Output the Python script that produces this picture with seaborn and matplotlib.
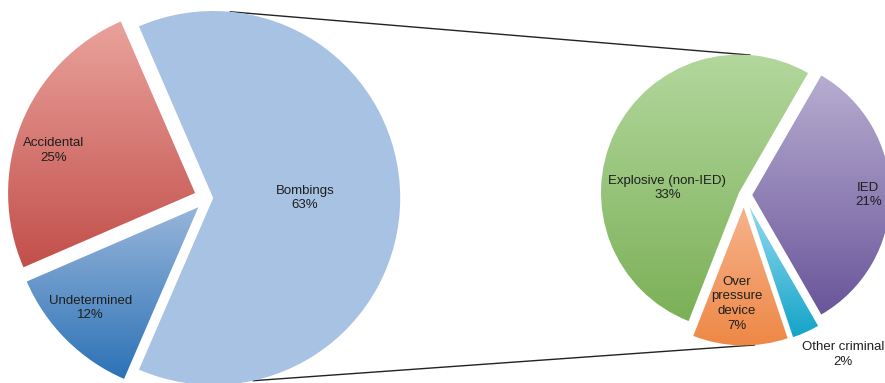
import numpy as np
import matplotlib
matplotlib.use("Agg")
import matplotlib.pyplot as plt
import seaborn as sns

# ---- data ----
left_labels = ["Bombings", "Accidental", "Undetermined"]
left_values = [63, 25, 12]
right_labels = ["IED", "Explosive (non-IED)", "Over\npressure\ndevice", "Other criminal"]
right_values = [21, 33, 7, 2]

# ---- style ----
left_colors = ["#A8C2E3", ("#EAA29C", "#C24F4A"), ("#97B5DA", "#2C72B6")]
right_colors = [("#B7ADD0", "#69559A"), ("#B3D79D", "#7BB057"),
                ("#F6B28C", "#EE8845"), ("#95D9F1", "#12A4C7")]
left_explode = [0.03, 0.072, 0.07]
right_explode = [0.06, 0.04, 0.09, 0.09]
left_lab_pos = [(0.49, 0), (0.79, 5), (0.79, -2)]
right_lab_pos = [(0.84, 0), (0.52, 22), (0.70, -2.6), (1.27, 8)]

sns.set_theme(style="white")
plt.rcParams['font.family'] = ['Liberation Sans', 'DejaVu Sans']

fig = plt.figure(figsize=(8.85, 3.83), dpi=100)
ax = fig.add_axes([0, 0, 1, 1])


def grad_pie(values, colors, center, radius, explode, labels, labpos):
    total = sum(values)
    start = -values[0] / total * 360 / 2
    wedges, _ = ax.pie(values, center=center, radius=radius,
                       explode=[e * radius for e in explode],
                       startangle=start, counterclock=True,
                       wedgeprops=dict(linewidth=0))
    for w, c in zip(wedges, colors):
        if isinstance(c, tuple):
            w.set_facecolor("none")
            v = w.get_path().vertices
            x0, x1 = v[:, 0].min(), v[:, 0].max()
            y0, y1 = v[:, 1].min(), v[:, 1].max()
            cmap = sns.blend_palette([c[0], c[1]], as_cmap=True)
            grad = np.linspace(0, 1, 256).reshape(-1, 1)
            im = ax.imshow(grad, cmap=cmap, extent=(x0, x1, y0, y1),
                           origin="upper", aspect="auto", zorder=1,
                           interpolation="bilinear")
            im.set_clip_path(w)
        else:
            w.set_facecolor(c)
    for w, lab, val, (frac, doff) in zip(wedges, labels, values, labpos):
        ang = np.deg2rad((w.theta1 + w.theta2) / 2 + doff)
        cx, cy = w.center
        ax.text(cx + frac * w.r * np.cos(ang), cy + frac * w.r * np.sin(ang),
                f"{lab}\n{val}%", ha="center", va="center", fontsize=9.5,
                color="#1e1e1e", linespacing=1.3, zorder=5)
    return wedges


lw_ = grad_pie(left_values, left_colors, (207.6, 185), 187, left_explode,
               left_labels, left_lab_pos)
rw_ = grad_pie(right_values, right_colors, (744, 188), 138, right_explode,
               right_labels, right_lab_pos)


def pt(w, deg):
    a = np.deg2rad(deg)
    return (w.center[0] + w.r * np.cos(a), w.center[1] + w.r * np.sin(a))


for (wa, da), (wb, db) in [((lw_[0], 84.8), (rw_[1], 85.4)),
                           ((lw_[0], -77.7), (rw_[2], -85.4))]:
    p, q = pt(wa, da), pt(wb, db)
    ax.plot([p[0], q[0]], [p[1], q[1]], color="#222222", lw=1.0, zorder=0.5)

ax.set_xlim(0, 885)
ax.set_ylim(0, 383)
ax.set_aspect("equal")
ax.axis("off")
fig.savefig("out.png", dpi=100)
